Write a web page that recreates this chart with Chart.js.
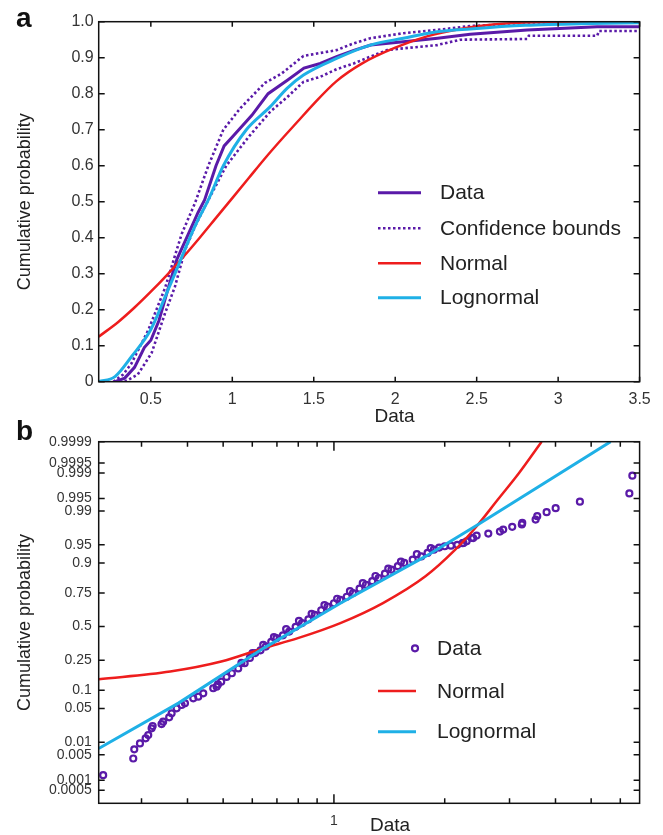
<!DOCTYPE html>
<html>
<head>
<meta charset="utf-8">
<script src="https://cdn.jsdelivr.net/npm/chart.js@4.4.0/dist/chart.umd.min.js"></script>
<style>
  body { margin: 0; background: #fff; width: 663px; height: 835px; position: relative; overflow: hidden; }
  canvas { position: absolute; left: 0; }
  #cA { top: 0; }
  #cB { top: 410px; }
</style>
</head>
<body>
<canvas id="cA" width="663" height="425"></canvas>
<canvas id="cB" width="663" height="425"></canvas>
<script>
// ---- panel a: empirical CDF, bounds and fitted CDFs (x = Data, p = cumulative probability)
var aDataX  = [0.28, 0.34, 0.40, 0.46, 0.50, 0.55, 0.61, 0.66, 0.73, 0.79, 0.83, 0.90, 0.95, 1.00, 1.04, 1.12, 1.22, 1.34, 1.44, 1.54, 1.64, 1.75, 1.85, 2.05, 2.26, 2.46, 2.81, 3.24, 3.50];
var aDataP  = [0.0, 0.01, 0.04, 0.095, 0.115, 0.17, 0.265, 0.34, 0.41, 0.47, 0.505, 0.60, 0.655, 0.68, 0.70, 0.74, 0.80, 0.838, 0.871, 0.884, 0.903, 0.921, 0.935, 0.944, 0.954, 0.965, 0.977, 0.986, 0.986];
var aUpperX = [0.27, 0.33, 0.38, 0.485, 0.587, 0.648, 0.689, 0.77, 0.853, 0.945, 1.05, 1.20, 1.30, 1.437, 1.64, 1.745, 1.847, 2.05, 2.256, 2.46, 2.81, 3.24, 3.50];
var aUpperP = [0.0, 0.02, 0.05, 0.144, 0.26, 0.35, 0.41, 0.495, 0.60, 0.70, 0.76, 0.83, 0.855, 0.905, 0.921, 0.94, 0.954, 0.968, 0.977, 0.988, 0.995, 0.997, 0.998];
var aLowerX = [0.34, 0.42, 0.505, 0.587, 0.648, 0.71, 0.77, 0.83, 0.963, 1.10, 1.233, 1.336, 1.437, 1.54, 1.64, 1.745, 1.847, 1.95, 2.05, 2.256, 2.40, 2.81, 2.82, 3.24, 3.25, 3.50];
var aLowerP = [0.0, 0.02, 0.08, 0.19, 0.264, 0.366, 0.43, 0.485, 0.60, 0.68, 0.75, 0.79, 0.833, 0.847, 0.868, 0.884, 0.903, 0.921, 0.926, 0.935, 0.950, 0.952, 0.961, 0.961, 0.974, 0.974];
var aNormX  = [0.18, 0.30, 0.40, 0.50, 0.60, 0.70, 0.80, 0.90, 1.00, 1.10, 1.20, 1.30, 1.40, 1.50, 1.64, 1.80, 2.00, 2.20, 2.40, 2.60, 2.80, 3.50];
var aNormP  = [0.125, 0.166, 0.206, 0.25, 0.297, 0.347, 0.40, 0.455, 0.51, 0.565, 0.62, 0.672, 0.722, 0.772, 0.835, 0.885, 0.928, 0.96, 0.98, 0.992, 0.998, 1.0];
var aLogX   = [0.18, 0.28, 0.382, 0.50, 0.587, 0.648, 0.73, 0.79, 0.853, 0.945, 1.086, 1.233, 1.336, 1.437, 1.64, 1.847, 2.05, 2.256, 2.46, 2.80, 3.20, 3.50];
var aLogP   = [0.0, 0.014, 0.07, 0.145, 0.235, 0.30, 0.39, 0.45, 0.505, 0.60, 0.70, 0.764, 0.815, 0.852, 0.898, 0.935, 0.954, 0.972, 0.98, 0.99, 0.995, 0.997];

var aTickX = [0.5, 1, 1.5, 2, 2.5, 3, 3.5];
var aTickXLabels = ['0.5', '1', '1.5', '2', '2.5', '3', '3.5'];
var aTickY = [0, 0.1, 0.2, 0.3, 0.4, 0.5, 0.6, 0.7, 0.8, 0.9, 1.0];
var aTickYLabels = ['0', '0.1', '0.2', '0.3', '0.4', '0.5', '0.6', '0.7', '0.8', '0.9', '1.0'];

// ---- panel b: probability plot (log x, normal-probability y)
var bDataX = [
  0.236, 0.2849, 0.2867, 0.2971, 0.3078, 0.3129, 0.3196, 0.3216, 0.3401, 0.3435, 0.3567, 0.3622, 0.3737, 0.3855, 0.3937, 0.4147, 0.4279, 0.4415, 0.4699, 0.480,
  0.484, 0.494, 0.5107, 0.528, 0.5495, 0.5605, 0.572, 0.591, 0.6008, 0.611, 0.6316, 0.6425, 0.653, 0.6755, 0.687, 0.698, 0.7267, 0.7415, 0.756,
  0.787, 0.8034, 0.819, 0.8524, 0.8697, 0.887, 0.9236, 0.9423, 0.961, 1.0, 1.0202, 1.041, 1.0834, 1.1053, 1.127, 1.174, 1.1976, 1.222,
  1.271, 1.2967, 1.323, 1.376, 1.405, 1.433, 1.4915, 1.5207, 1.553, 1.637, 1.68, 1.727, 1.7965, 1.8323, 1.869, 1.932, 2.0, 2.079, 2.164, 2.2375,
  2.248, 2.294, 2.37, 2.39, 2.442, 2.627, 2.825, 2.884, 3.051, 3.24, 3.249, 3.532, 3.568, 3.784, 4.004, 4.66, 6.35, 6.47];
var bDataP = [
  0.0014, 0.0040, 0.0068, 0.0094, 0.0123, 0.0146, 0.0204, 0.0228, 0.025, 0.0279, 0.034, 0.0406, 0.0502, 0.0574, 0.0615, 0.0747, 0.0794, 0.090, 0.1075, 0.1136,
  0.1224, 0.134, 0.1557, 0.174, 0.2002, 0.2327, 0.231, 0.2647, 0.2966, 0.297, 0.3164, 0.3568, 0.344, 0.3796, 0.4162, 0.408, 0.4304, 0.4799, 0.46,
  0.4984, 0.5466, 0.528, 0.5585, 0.6018, 0.594, 0.6288, 0.6677, 0.657, 0.6808, 0.7124, 0.705, 0.7261, 0.7617, 0.75, 0.777, 0.8087, 0.80,
  0.8194, 0.8457, 0.836, 0.8565, 0.878, 0.874, 0.888, 0.9043, 0.90, 0.911, 0.9275, 0.921, 0.9308, 0.9428, 0.939, 0.944, 0.947, 0.9483, 0.950, 0.9534,
  0.9538, 0.9569, 0.9628, 0.9625, 0.9664, 0.9693, 0.972, 0.9745, 0.9776, 0.980, 0.9815, 0.9843, 0.9868, 0.9893, 0.9914, 0.994, 0.9963, 0.9988];
var bNormX = [0.2295, 0.359, 0.494, 0.644, 0.798, 1.041, 1.359, 1.773, 2.136, 2.44, 2.789, 3.184, 3.667];
var bNormP = [0.145, 0.183, 0.241, 0.332, 0.408, 0.528, 0.682, 0.844, 0.939, 0.978, 0.9947, 0.999, 0.9999];
var bLogX  = [0.2295, 0.378, 0.643, 1.041, 1.773, 2.44, 5.645];
var bLogP  = [0.0071, 0.062, 0.331, 0.681, 0.921, 0.979, 0.9999];

var bTickX = [0.3, 0.4, 0.5, 0.6, 0.7, 0.8, 0.9, 1, 2, 3, 4, 5, 6];
var bTickXLabels = ['', '', '', '', '', '', '', '1', '', '', '', '', ''];
var bTickY = [0.0005, 0.001, 0.005, 0.01, 0.05, 0.1, 0.25, 0.5, 0.75, 0.9, 0.95, 0.99, 0.995, 0.999, 0.9995, 0.9999];
var bTickYLabels = ['0.0005', '0.001', '0.005', '0.01', '0.05', '0.1', '0.25', '0.5', '0.75', '0.9', '0.95', '0.99', '0.995', '0.999', '0.9995', '0.9999'];

var PURPLE = '#5a1aa8', RED = '#ee1d1d', CYAN = '#1fb0e6';
var FONT = "'Liberation Sans', Arial, Helvetica, sans-serif";
Chart.defaults.font.family = FONT;
Chart.defaults.color = '#333';

function pts(xs, ys) {
  return xs.map(function (x, i) { return { x: x, y: ys[i] }; });
}

// inverse normal CDF (Acklam) and normal CDF, used by the probability scale
function qnorm(p) {
  var a = [-39.69683028665376, 220.9460984245205, -275.9285104469687, 138.3577518672690, -30.66479806614716, 2.506628277459239];
  var b = [-54.47609879822406, 161.5858368580409, -155.6989798598866, 66.80131188771972, -13.28068155288572];
  var c = [-0.007784894002430293, -0.3223964580411365, -2.400758277161838, -2.549732539343734, 4.374664141464968, 2.938163982698783];
  var d = [0.007784695709041462, 0.3224671290700398, 2.445134137142996, 3.754408661907416];
  var q, r;
  if (p < 0.02425) {
    q = Math.sqrt(-2 * Math.log(p));
    return (((((c[0] * q + c[1]) * q + c[2]) * q + c[3]) * q + c[4]) * q + c[5]) / ((((d[0] * q + d[1]) * q + d[2]) * q + d[3]) * q + 1);
  }
  if (p > 1 - 0.02425) {
    q = Math.sqrt(-2 * Math.log(1 - p));
    return -(((((c[0] * q + c[1]) * q + c[2]) * q + c[3]) * q + c[4]) * q + c[5]) / ((((d[0] * q + d[1]) * q + d[2]) * q + d[3]) * q + 1);
  }
  q = p - 0.5; r = q * q;
  return (((((a[0] * r + a[1]) * r + a[2]) * r + a[3]) * r + a[4]) * r + a[5]) * q / (((((b[0] * r + b[1]) * r + b[2]) * r + b[3]) * r + b[4]) * r + 1);
}
function pnorm(z) {
  var t = 1 / (1 + 0.3275911 * Math.abs(z) / Math.SQRT2);
  var y = 1 - (((((1.061405429 * t - 1.453152027) * t) + 1.421413741) * t - 0.284496736) * t + 0.254829592) * t * Math.exp(-z * z / 2);
  return z >= 0 ? (1 + y) / 2 : (1 - y) / 2;
}

class ProbabilityScale extends Chart.Scale {
  determineDataLimits() { this.min = this.options.min; this.max = this.options.max; }
  buildTicks() { return []; }
  configure() {
    super.configure();
    this._zMin = qnorm(this.min);
    this._zMax = qnorm(this.max);
  }
  getPixelForValue(v) { return this.getPixelForDecimal((qnorm(v) - this._zMin) / (this._zMax - this._zMin)); }
  getValueForPixel(px) { return pnorm(this._zMin + this.getDecimalForPixel(px) * (this._zMax - this._zMin)); }
  getPixelForTick(i) { return this.getPixelForValue(this.ticks[i].value); }
}
ProbabilityScale.id = 'probability';
ProbabilityScale.defaults = {};
Chart.register(ProbabilityScale);

// box, inward ticks, legend, x title and panel letter
function framePlugin(cfg) {
  return {
    id: 'frame',
    afterDraw: function (chart) {
      var ctx = chart.ctx, a = chart.chartArea, xs = chart.scales.x, ys = chart.scales.y;
      ctx.save();
      ctx.strokeStyle = '#111';
      ctx.lineWidth = 1.5;
      ctx.strokeRect(a.left, a.top, a.right - a.left, a.bottom - a.top);
      ctx.beginPath();
      xs.ticks.forEach(function (t) {
        var px = xs.getPixelForValue(t.value);
        var len = t.value === cfg.majorX ? 9 : 5;
        ctx.moveTo(px, a.bottom); ctx.lineTo(px, a.bottom - len);
        ctx.moveTo(px, a.top); ctx.lineTo(px, a.top + len);
      });
      ys.ticks.forEach(function (t) {
        var py = ys.getPixelForValue(t.value);
        ctx.moveTo(a.left, py); ctx.lineTo(a.left + 6, py);
        ctx.moveTo(a.right, py); ctx.lineTo(a.right - 6, py);
      });
      ctx.stroke();

      // legend
      ctx.font = '21px ' + FONT;
      ctx.textBaseline = 'middle';
      ctx.textAlign = 'left';
      cfg.legend.forEach(function (it) {
        var ds = chart.data.datasets[it.ds];
        ctx.beginPath();
        ctx.lineWidth = ds.borderWidth;
        ctx.strokeStyle = ds.borderColor;
        if (it.marker) {
          ctx.arc(it.x1, it.y, ds.pointRadius, 0, Math.PI * 2);
        } else {
          ctx.setLineDash(ds.borderDash || []);
          ctx.moveTo(it.x0, it.y); ctx.lineTo(it.x1, it.y);
        }
        ctx.stroke();
        ctx.setLineDash([]);
        ctx.fillStyle = '#222';
        ctx.fillText(it.label, cfg.textX, it.y + 1);
      });

      // x-axis title and panel letter
      ctx.fillStyle = '#222';
      ctx.font = '19px ' + FONT;
      ctx.textAlign = 'center';
      ctx.textBaseline = 'alphabetic';
      ctx.fillText('Data', cfg.xTitle[0], cfg.xTitle[1]);
      ctx.font = 'bold 28px ' + FONT;
      ctx.textAlign = 'left';
      ctx.fillStyle = '#111';
      ctx.fillText(cfg.letter, 16, cfg.letterY);
      ctx.restore();
    }
  };
}

function yTitle(text) {
  return { display: true, text: text, color: '#222', font: { size: 18 }, padding: { top: 14, bottom: 0 } };
}

// ---------- chart a
new Chart(document.getElementById('cA'), {
  type: 'scatter',
  data: {
    datasets: [
      { label: 'Lognormal', data: pts(aLogX, aLogP), showLine: true, borderColor: CYAN, borderWidth: 3, pointRadius: 0, cubicInterpolationMode: 'monotone' },
      { label: 'Normal', data: pts(aNormX, aNormP), showLine: true, borderColor: RED, borderWidth: 2.5, pointRadius: 0, cubicInterpolationMode: 'monotone' },
      { label: 'Data', data: pts(aDataX, aDataP), showLine: true, borderColor: PURPLE, borderWidth: 3, pointRadius: 0 },
      { label: 'Confidence bounds', data: pts(aUpperX, aUpperP), showLine: true, borderColor: PURPLE, borderWidth: 2.6, borderDash: [2.5, 2.5], pointRadius: 0 },
      { label: 'Confidence bounds (lower)', data: pts(aLowerX, aLowerP), showLine: true, borderColor: PURPLE, borderWidth: 2.6, borderDash: [2.5, 2.5], pointRadius: 0 }
    ]
  },
  options: {
    responsive: false,
    animation: false,
    events: [],
    layout: { padding: { top: 21.7, right: 23.4, left: 0, bottom: 0 } },
    plugins: { legend: { display: false }, tooltip: { enabled: false } },
    scales: {
      x: {
        type: 'linear', min: 0.18, max: 3.5,
        grid: { display: false, drawTicks: false }, border: { display: false },
        afterBuildTicks: function (s) { s.ticks = aTickX.map(function (v) { return { value: v }; }); },
        afterFit: function (s) { s.height = 43.3; },
        ticks: { autoSkip: false, maxRotation: 0, padding: 8, color: '#333', font: { size: 16 },
          callback: function (v, i) { return aTickXLabels[i]; } }
      },
      y: {
        type: 'linear', min: 0, max: 1,
        grid: { display: false, drawTicks: false }, border: { display: false },
        afterBuildTicks: function (s) { s.ticks = aTickY.map(function (v) { return { value: v }; }); },
        afterFit: function (s) { s.width = 98.7; },
        title: yTitle('Cumulative probability'),
        ticks: { autoSkip: false, padding: 5, color: '#333', font: { size: 16 },
          callback: function (v, i) { return aTickYLabels[i]; } }
      }
    }
  },
  plugins: [framePlugin({
    majorX: null, letter: 'a', letterY: 27, xTitle: [394.5, 422], textX: 440,
    legend: [
      { ds: 2, label: 'Data', x0: 378, x1: 421, y: 192.7 },
      { ds: 3, label: 'Confidence bounds', x0: 378, x1: 421, y: 228.3 },
      { ds: 1, label: 'Normal', x0: 378, x1: 421, y: 263.3 },
      { ds: 0, label: 'Lognormal', x0: 378, x1: 421, y: 297.7 }
    ]
  })]
});

// ---------- chart b
new Chart(document.getElementById('cB'), {
  type: 'scatter',
  data: {
    datasets: [
      { label: 'Lognormal', data: pts(bLogX, bLogP), showLine: true, borderColor: CYAN, borderWidth: 3, pointRadius: 0 },
      { label: 'Normal', data: pts(bNormX, bNormP), showLine: true, borderColor: RED, borderWidth: 2.5, pointRadius: 0, cubicInterpolationMode: 'monotone' },
      { label: 'Data', data: pts(bDataX, bDataP), showLine: false, borderColor: PURPLE, backgroundColor: 'rgba(0,0,0,0)', borderWidth: 2.2, pointRadius: 3, pointStyle: 'circle' }
    ]
  },
  options: {
    responsive: false,
    animation: false,
    events: [],
    layout: { padding: { top: 31.7, right: 23.4, left: 0, bottom: 0 } },
    plugins: { legend: { display: false }, tooltip: { enabled: false } },
    scales: {
      x: {
        type: 'logarithmic', min: 0.2295, max: 6.77,
        grid: { display: false, drawTicks: false }, border: { display: false },
        afterBuildTicks: function (s) { s.ticks = bTickX.map(function (v) { return { value: v }; }); },
        afterFit: function (s) { s.height = 31.7; },
        ticks: { autoSkip: false, maxRotation: 0, padding: 9, color: '#333', font: { size: 14 },
          callback: function (v, i) { return bTickXLabels[i]; } }
      },
      y: {
        type: 'probability', min: 0.00019, max: 0.9999,
        grid: { display: false, drawTicks: false }, border: { display: false },
        afterBuildTicks: function (s) { s.ticks = bTickY.map(function (v) { return { value: v }; }); },
        afterFit: function (s) { s.width = 98.7; },
        title: yTitle('Cumulative probability'),
        ticks: { autoSkip: false, padding: 7, color: '#333', font: { size: 14 },
          callback: function (v, i) { return bTickYLabels[i]; } }
      }
    }
  },
  plugins: [framePlugin({
    majorX: 1, letter: 'b', letterY: 30, xTitle: [390, 421], textX: 437,
    legend: [
      { ds: 2, label: 'Data', marker: true, x1: 415, y: 238.3 },
      { ds: 1, label: 'Normal', x0: 378, x1: 416, y: 281 },
      { ds: 0, label: 'Lognormal', x0: 378, x1: 416, y: 321.7 }
    ]
  })]
});
</script>
</body>
</html>
